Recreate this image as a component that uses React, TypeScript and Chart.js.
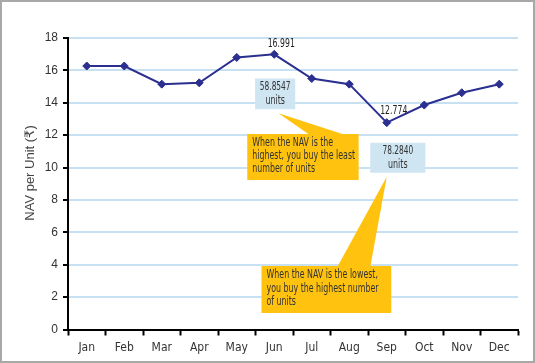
import React, { useEffect, useRef } from "react";
import { Chart, registerables } from "chart.js";

Chart.register(...registerables);

const months = ["Jan", "Feb", "Mar", "Apr", "May", "Jun", "Jul", "Aug", "Sep", "Oct", "Nov", "Dec"];
const navValues = [16.27, 16.27, 15.15, 15.23, 16.8, 16.991, 15.5, 15.15, 12.774, 13.86, 14.62, 15.15];
const yMin = 0;
const yMax = 18;
const yStep = 2;
const yTitle = "NAV per Unit (₹)";

// labels shown next to selected points
const pointLabelIndex = [5, 8];
const pointLabelText = ["16.991", "12.774"];

// "units" boxes, in data coordinates (category index, NAV value)
const unitBoxX = [[4.49, 5.56], [7.56, 9.03]];
const unitBoxY = [[15.5, 13.6], [11.53, 9.68]];
const unitBoxText = [["58.8547", "units"], ["78.2840", "units"]];

// yellow callouts, in data coordinates
const calloutX = [[4.28, 7.25], [4.66, 8.12]];
const calloutY = [[12.07, 9.23], [3.92, 1.02]];
const calloutTip = [[5.11, 13.35], [8.0, 9.43]];
const calloutBase = [[5.95, 6.9], [6.68, 7.56]];
const calloutText = [
  ["When the NAV is the", "highest, you buy the least", "number of units"],
  ["When the NAV is the lowest,", "you buy the highest number", "of units"],
];

const NARROW = '"Liberation Sans Narrow", "DejaVu Sans Condensed", "Arial Narrow", sans-serif';
const SANS = '"Liberation Sans", "DejaVu Sans", sans-serif';

function squeezeText(ctx: any, text: string, x: number, y: number, factor: number) {
  const w = ctx.measureText(text).width;
  ctx.fillText(text, x, y, w * factor);
}

const decorPlugin = {
  id: "decor",
  beforeDraw(chart: any) {
    const { ctx, width, height } = chart;
    ctx.save();
    ctx.fillStyle = "#ffffff";
    ctx.fillRect(0, 0, width, height);
    ctx.strokeStyle = "#a8a8a8";
    ctx.lineWidth = 2;
    ctx.strokeRect(1, 1, width - 2, height - 2);
    // y title
    ctx.translate(30, 173);
    ctx.rotate(-Math.PI / 2);
    ctx.fillStyle = "#444444";
    ctx.font = `13px ${SANS}`;
    ctx.textAlign = "center";
    ctx.textBaseline = "middle";
    ctx.fillText(yTitle, 0, 0);
    ctx.restore();
  },
  afterDatasetsDraw(chart: any) {
    const { ctx } = chart;
    const xs = chart.scales.x;
    const ys = chart.scales.y;
    const px = (v: number) => xs.getPixelForValue(0) + v * (xs.getPixelForValue(1) - xs.getPixelForValue(0));
    const py = (v: number) => ys.getPixelForValue(v);
    ctx.save();

    // callouts
    calloutX.forEach((cx, i) => {
      const x0 = px(cx[0]);
      const x1 = px(cx[1]);
      const y0 = py(calloutY[i][0]);
      const y1 = py(calloutY[i][1]);
      ctx.fillStyle = "#ffc20e";
      ctx.fillRect(x0, y0, x1 - x0, y1 - y0);
      ctx.beginPath();
      ctx.moveTo(px(calloutTip[i][0]), py(calloutTip[i][1]));
      ctx.lineTo(px(calloutBase[i][0]), y0 + 1);
      ctx.lineTo(px(calloutBase[i][1]), y0 + 1);
      ctx.closePath();
      ctx.fill();
      ctx.fillStyle = "#333333";
      ctx.font = `12px ${NARROW}`;
      ctx.textAlign = "left";
      ctx.textBaseline = "middle";
      const lines = calloutText[i];
      const lh = 13.3;
      const mid = (y0 + y1) / 2 - 1;
      lines.forEach((t, j) => {
        squeezeText(ctx, t, x0 + 5, mid + (j - (lines.length - 1) / 2) * lh, 0.73);
      });
    });

    // unit boxes
    unitBoxX.forEach((bx, i) => {
      const x0 = px(bx[0]);
      const x1 = px(bx[1]);
      const y0 = py(unitBoxY[i][0]);
      const y1 = py(unitBoxY[i][1]);
      ctx.fillStyle = "#cfe5f2";
      ctx.fillRect(x0, y0, x1 - x0, y1 - y0);
      ctx.fillStyle = "#333333";
      ctx.font = `11.5px ${NARROW}`;
      ctx.textAlign = "center";
      ctx.textBaseline = "middle";
      const cx = (x0 + x1) / 2;
      const mid = (y0 + y1) / 2;
      squeezeText(ctx, unitBoxText[i][0], cx, mid - 7, 0.72);
      squeezeText(ctx, unitBoxText[i][1], cx, mid + 7, 0.77);
    });

    // point labels
    const meta = chart.getDatasetMeta(0);
    ctx.fillStyle = "#222222";
    ctx.font = `11.5px ${NARROW}`;
    ctx.textAlign = "center";
    ctx.textBaseline = "middle";
    pointLabelIndex.forEach((idx, i) => {
      const pt = meta.data[idx];
      squeezeText(ctx, pointLabelText[i], pt.x + 7, pt.y - (i === 0 ? 10 : 12), 0.75);
    });
    ctx.restore();
  },
};

export default function App() {
  const ref = useRef<HTMLCanvasElement | null>(null);

  useEffect(() => {
    document.body.style.margin = "0";
    if (!ref.current) return;
    const chart = new Chart(ref.current, {
      type: "line",
      data: {
        labels: months,
        datasets: [
          {
            data: navValues,
            borderColor: "#2b2f8f",
            backgroundColor: "#2b2f8f",
            borderWidth: 2,
            pointStyle: "rectRot",
            pointRadius: 4,
            pointBorderWidth: 1,
            tension: 0,
          },
        ],
      },
      options: {
        animation: false,
        responsive: false,
        devicePixelRatio: 1,
        layout: { padding: { top: 38, right: 17, left: 0, bottom: 0 } },
        plugins: { legend: { display: false }, tooltip: { enabled: false } },
        scales: {
          x: {
            offset: true,
            grid: {
              display: true,
              drawOnChartArea: false,
              drawTicks: true,
              tickLength: 6,
              tickColor: "#000000",
              tickWidth: 2,
              offset: true,
            },
            border: { display: true, color: "#000000", width: 2 },
            ticks: {
              color: "#333333",
              font: { family: NARROW, size: 12 },
              padding: 5,
              maxRotation: 0,
              autoSkip: false,
            },
            afterFit: (scale: any) => {
              scale.height = 33.5;
            },
          },
          y: {
            min: yMin,
            max: yMax,
            grid: {
              color: "#c8e1f2",
              lineWidth: 2,
              drawTicks: true,
              tickLength: 5,
              tickColor: "#000000",
              tickWidth: 2,
            },
            border: { display: true, color: "#000000", width: 2 },
            ticks: {
              stepSize: yStep,
              color: "#333333",
              font: { family: SANS, size: 12 },
              padding: 5,
            },
            afterFit: (scale: any) => {
              scale.width = 68;
            },
          },
        },
      },
      plugins: [decorPlugin],
    });
    return () => chart.destroy();
  }, []);

  return (
    <div style={{ position: "absolute", left: 0, top: 0, width: 535, height: 363 }}>
      <canvas ref={ref} width={535} height={363} />
    </div>
  );
}
